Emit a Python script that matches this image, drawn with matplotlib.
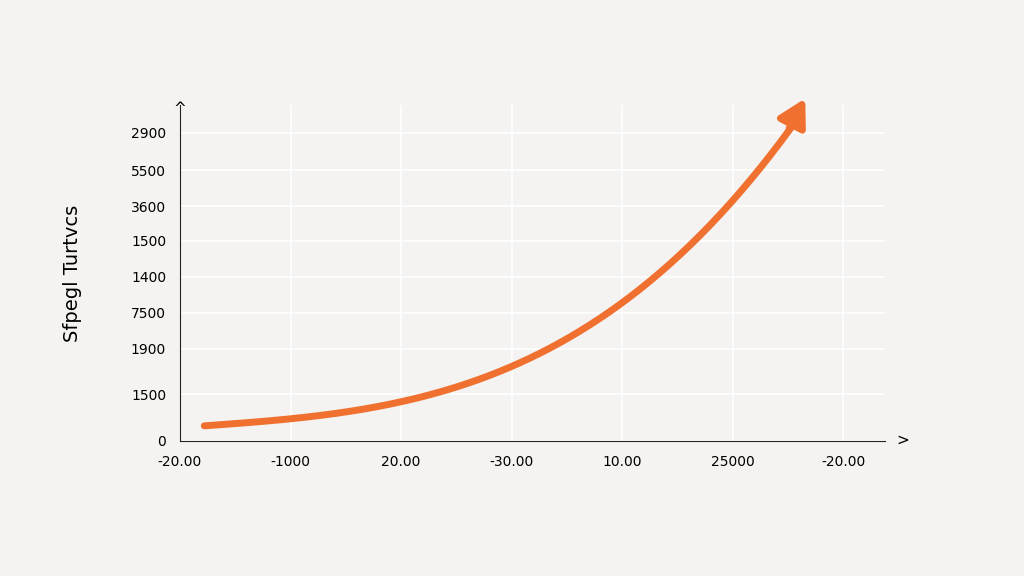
import matplotlib
matplotlib.use("Agg")
import matplotlib.pyplot as plt
import numpy as np

x_labels = ["-20.00", "-1000", "20.00", "-30.00", "10.00", "25000", "-20.00"]
y_labels = ["0", "1500", "1900", "7500", "1400", "1500", "3600", "5500", "2900"]
y_tick_pos = [0, 47, 92, 128, 164, 200, 235, 271, 308]
curve_x = [0.22, 1.0, 2.01, 3.03, 4.03, 5.04, 5.53]
curve_y = [16, 21, 38, 79, 141, 241, 316]
color = "#F07030"
bg = "#F4F3F1"

fig = plt.figure(figsize=(10.24, 5.76), dpi=100, facecolor=bg)
ax = fig.add_axes([180/1024, 1-441/576, 705/1024, 336/576], facecolor=bg)
ax.set_xlim(0.07, 6.38)
ax.set_ylim(0, 336)
ax.set_xticks(range(7))
ax.set_xticklabels(x_labels, fontsize=10)
ax.set_yticks(y_tick_pos)
ax.set_yticklabels(y_labels, fontsize=10)
ax.tick_params(length=0, pad=10)
ax.grid(True, color="white", lw=1.2)
for s in ["top", "right"]:
    ax.spines[s].set_visible(False)
for s in ["left", "bottom"]:
    ax.spines[s].set_color("#222222")
ax.set_ylabel("Sfpegl Turtvcs", fontsize=14, labelpad=35)

xs = np.array(curve_x); ys = np.array(curve_y)
t = np.linspace(0, 1, len(xs)); tt = np.linspace(0, 1, 200)
from numpy.polynomial import polynomial as P
cx = np.interp(tt, t, xs)
cy = np.polyval(np.polyfit(xs, ys, 3), cx)
ax.plot(cx, cy, color=color, lw=5, solid_capstyle="round", clip_on=False)
ax.annotate("", xy=(5.67, 345), xytext=(5.5, 310), annotation_clip=False,
            arrowprops=dict(arrowstyle="-|>,head_length=1.6,head_width=0.9", color=color, lw=5))
fig.text(180/1024, 1-108/576, "^", ha="center", va="center", fontsize=11)
fig.text(903/1024, 1-440/576, ">", ha="center", va="center", fontsize=11)
fig.savefig("out.png", dpi=100, facecolor=bg)
